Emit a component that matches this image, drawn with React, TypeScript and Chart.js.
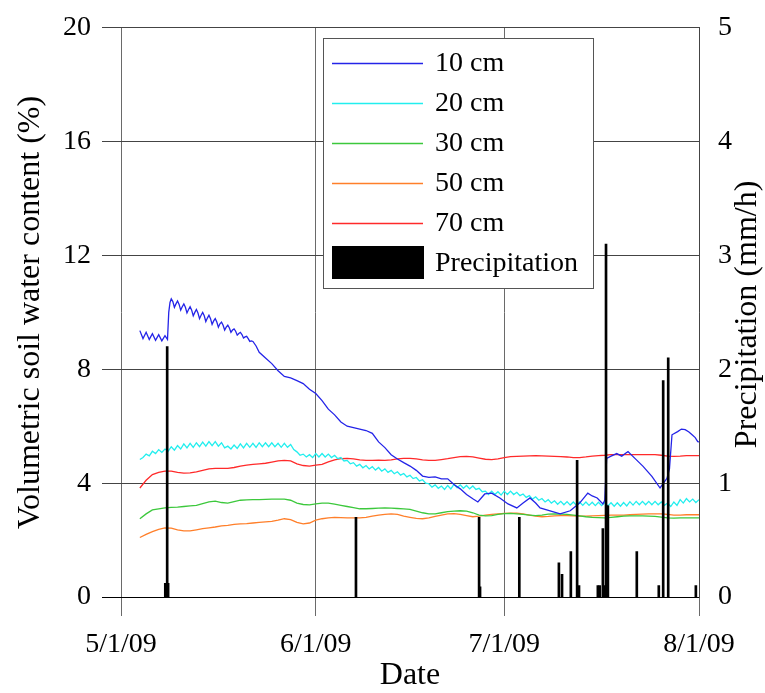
import React, { useEffect, useRef } from 'react';
import { Chart, registerables } from 'chart.js';

Chart.register(...registerables);

const FONT = '"Liberation Serif", "Times New Roman", Times, serif';

// x values: days since 5/1/09
const X_TICK_DAYS = [0, 31, 61, 92];
const X_TICK_LABELS = ['5/1/09', '6/1/09', '7/1/09', '8/1/09'];

const DAYS_10CM = [
  3.0, 3.5, 4.0, 4.5, 5.0, 5.5, 6.0, 6.5, 7.0, 7.4, 7.6, 7.8,
  8.0, 8.25, 8.5, 8.75, 9.0, 9.25, 9.5, 9.75, 10.0, 10.25, 10.5, 10.75, 11.0, 11.25, 11.5, 11.75,
  12.0, 12.25, 12.5, 12.75, 13.0, 13.25, 13.5, 13.75, 14.0, 14.25, 14.5, 14.75, 15.0, 15.25, 15.5, 15.75,
  16.0, 16.25, 16.5, 16.75, 17.0, 17.25, 17.5, 17.75, 18.0, 18.25, 18.5, 18.75, 19.0, 19.25, 19.5, 19.75,
  20.0, 20.25, 20.5, 20.75, 21.0, 21.5,
  22, 23, 24, 25, 26, 27, 28, 29, 30, 31, 32, 33, 34, 35, 36, 37, 38, 39, 40, 41, 42, 43, 44,
  45, 46, 47, 48, 49, 50, 51, 52, 53, 54, 55, 56, 56.8, 57.9, 59, 60.3, 61.6, 63, 64, 65.1, 66, 66.7, 68.3,
  69.9, 71.5, 73, 74.3, 75, 75.8, 76.7, 77.0, 77.3, 78, 78.9, 79.7, 80.7, 81.8, 83.1, 84.5, 85.8, 86.9,
  87.3, 87.7, 88.6, 89.2, 89.8, 90.4, 90.9, 91.4, 91.8, 92,
];
const VALUES_10CM = [
  9.36, 9.08, 9.30, 9.05, 9.25, 9.02, 9.22, 9.00, 9.18, 9.05, 10.0, 10.35,
  10.48, 10.38, 10.18, 10.3, 10.4, 10.28, 10.08, 10.2, 10.3, 10.18, 9.98, 10.1, 10.2, 10.08, 9.88, 10.0,
  10.1, 9.98, 9.78, 9.9, 10.0, 9.88, 9.68, 9.8, 9.9, 9.78, 9.58, 9.7, 9.78, 9.66, 9.48, 9.6,
  9.66, 9.55, 9.38, 9.48, 9.55, 9.45, 9.3, 9.38, 9.42, 9.34, 9.2, 9.26, 9.3, 9.22, 9.1, 9.14,
  9.16, 9.08, 8.98, 9.0, 8.98, 8.82,
  8.6, 8.4, 8.2, 7.95, 7.75, 7.7, 7.6, 7.5, 7.3, 7.15, 6.9, 6.6, 6.4, 6.15, 6.0, 5.95, 5.9, 5.85, 5.75, 5.45, 5.25, 5.0, 4.85,
  4.72, 4.6, 4.45, 4.25, 4.2, 4.22, 4.15, 4.15, 3.95, 3.8, 3.6, 3.45, 3.34, 3.62, 3.65, 3.48, 3.27, 3.13, 3.3, 3.48, 3.3, 3.13, 3.03,
  2.92, 3.03, 3.3, 3.65, 3.55, 3.48, 3.27, 3.4, 4.87, 4.95, 5.04, 4.95, 5.11, 4.87, 4.59, 4.24, 3.83, 4.17,
  4.5, 5.7, 5.81, 5.9, 5.88, 5.8, 5.7, 5.6, 5.46, 5.45,
];

// 20 cm sampled every half day starting at day 3
const START_20CM = 3;
const STEP_20CM = 0.5;
const VALUES_20CM = [
  4.83, 4.90, 5.02, 4.96, 5.12, 5.04, 5.18, 5.08, 5.20, 5.12, 5.28, 5.16, 5.32, 5.20, 5.38, 5.24, 5.40, 5.26,
  5.42, 5.28, 5.44, 5.30, 5.46, 5.32, 5.46, 5.30, 5.42, 5.24, 5.30, 5.20, 5.34, 5.22, 5.38, 5.24, 5.40, 5.26,
  5.40, 5.26, 5.42, 5.28, 5.42, 5.28, 5.42, 5.28, 5.40, 5.26, 5.40, 5.26, 5.36, 5.18, 5.10, 4.98, 5.02, 4.92,
  5.00, 4.90, 5.04, 4.92, 5.04, 4.92, 5.02, 4.90, 4.98, 4.86, 4.90, 4.78, 4.80, 4.68, 4.72, 4.60, 4.66, 4.54,
  4.62, 4.50, 4.58, 4.46, 4.55, 4.42, 4.50, 4.38, 4.45, 4.33, 4.40, 4.28, 4.34, 4.22, 4.28, 4.16, 4.20, 4.08,
  4.12, 4.00, 3.98, 3.86, 3.94, 3.82, 3.90, 3.78, 3.92, 3.80, 3.96, 3.84, 3.94, 3.82, 3.92, 3.80, 3.90, 3.78,
  3.82, 3.70, 3.72, 3.60, 3.72, 3.60, 3.70, 3.58, 3.72, 3.60, 3.72, 3.60, 3.68, 3.56, 3.62, 3.50, 3.56, 3.44,
  3.52, 3.40, 3.46, 3.34, 3.42, 3.30, 3.38, 3.26, 3.36, 3.24, 3.35, 3.23, 3.34, 3.22, 3.34, 3.22, 3.34, 3.22,
  3.33, 3.21, 3.33, 3.21, 3.32, 3.20, 3.31, 3.19, 3.31, 3.19, 3.32, 3.20, 3.35, 3.23, 3.36, 3.24, 3.36, 3.24,
  3.36, 3.24, 3.36, 3.24, 3.34, 3.22, 3.30, 3.18, 3.34, 3.22, 3.42, 3.30, 3.46, 3.34, 3.44, 3.32, 3.42,
];

// 30, 50, 70 cm sampled daily from day 3 to day 92
const START_DAILY = 3;
const VALUES_30CM = [
  2.75, 2.92, 3.06, 3.1, 3.13, 3.15, 3.16, 3.18, 3.2, 3.22, 3.28, 3.34, 3.37, 3.32, 3.3, 3.35, 3.4, 3.41, 3.42, 3.42,
  3.43, 3.44, 3.44, 3.44, 3.4, 3.3, 3.25, 3.24, 3.27, 3.3, 3.3, 3.26, 3.22, 3.18, 3.14, 3.1, 3.1, 3.11, 3.12, 3.13,
  3.12, 3.11, 3.1, 3.08, 3.02, 2.96, 2.92, 2.92, 2.96, 3.0, 3.02, 3.03, 3.02, 2.96, 2.88, 2.85, 2.86, 2.9, 2.93, 2.94,
  2.92, 2.9, 2.88, 2.86, 2.88, 2.91, 2.92, 2.91, 2.9, 2.88, 2.85, 2.82, 2.8, 2.79, 2.78, 2.8, 2.82, 2.84, 2.85, 2.85,
  2.85, 2.84, 2.83, 2.81, 2.78, 2.77, 2.78, 2.78, 2.78, 2.78,
];
const VALUES_50CM = [
  2.09, 2.2, 2.3, 2.38, 2.43, 2.42, 2.36, 2.32, 2.32, 2.36, 2.4, 2.43, 2.46, 2.5, 2.52, 2.55, 2.57, 2.58, 2.6, 2.62,
  2.64, 2.66, 2.7, 2.75, 2.72, 2.62, 2.57, 2.6, 2.7, 2.75, 2.78, 2.8, 2.79, 2.78, 2.78, 2.78, 2.8, 2.84, 2.88, 2.9,
  2.92, 2.9, 2.84, 2.8, 2.76, 2.75, 2.78, 2.83, 2.88, 2.92, 2.93, 2.9, 2.86, 2.82, 2.84, 2.88, 2.9, 2.92, 2.94, 2.95,
  2.95, 2.92, 2.88, 2.84, 2.82, 2.83, 2.85, 2.86, 2.86, 2.85, 2.84, 2.84, 2.85, 2.86, 2.87, 2.88, 2.88, 2.88, 2.89, 2.9,
  2.91, 2.92, 2.92, 2.92, 2.9, 2.88, 2.88, 2.89, 2.89, 2.89,
];
const VALUES_70CM = [
  3.83, 4.1, 4.3, 4.38, 4.42, 4.42, 4.38, 4.35, 4.36, 4.4, 4.45, 4.5, 4.52, 4.52, 4.52, 4.55, 4.6, 4.63, 4.66, 4.68,
  4.7, 4.74, 4.78, 4.8, 4.78, 4.68, 4.62, 4.6, 4.63, 4.66, 4.75, 4.82, 4.86, 4.87, 4.85, 4.82, 4.8, 4.8, 4.81, 4.8,
  4.82, 4.85, 4.87, 4.87, 4.85, 4.82, 4.8, 4.8, 4.83, 4.86, 4.9, 4.93, 4.94, 4.92, 4.88, 4.84, 4.83, 4.85, 4.9, 4.93,
  4.94, 4.95, 4.96, 4.97, 4.96, 4.95, 4.94, 4.93, 4.92, 4.9, 4.9, 4.92, 4.95, 4.97, 4.98, 5.0, 5.0, 5.0, 5.0, 5.0,
  5.0, 5.0, 5.0, 4.98, 4.95, 4.94, 4.95, 4.97, 4.97, 4.97,
];

const PRECIP_DAYS = [
  7.05, 7.2, 7.35, 7.5, 37.4, 57.0, 57.15, 63.4, 69.7, 70.2, 71.6, 72.6, 72.9, 75.9, 76.2, 76.7, 76.9, 77.2,
  77.35, 77.5, 82.1, 85.6, 86.3, 87.1, 91.5,
];
const PRECIP_VALUES = [
  0.12, 0.12, 2.2, 0.12, 0.7, 0.7, 0.09, 0.7, 0.3, 0.2, 0.4, 1.2, 0.1, 0.1, 0.1, 0.6, 0.1, 3.1,
  0.8, 0.8, 0.4, 0.1, 1.9, 2.1, 0.1,
];

const SERIES_LABELS = ['10 cm', '20 cm', '30 cm', '50 cm', '70 cm', 'Precipitation'];
const SERIES_COLORS = ['#2424e8', '#22eeee', '#3cc83c', '#ff7f2a', '#ff2a2a', '#000000'];
const LEFT_TITLE = 'Volumetric soil water content (%)';
const RIGHT_TITLE = 'Precipitation (mm/h)';
const X_TITLE = 'Date';

const pairs = (xs: number[], ys: number[]) => ys.map((y, i) => ({ x: xs[i], y }));
const stepped = (start: number, step: number, ys: number[]) => ys.map((y, i) => ({ x: start + i * step, y }));

const legendPlugin = {
  id: 'boxLegend',
  afterDraw(chart: any) {
    const c = chart.ctx as CanvasRenderingContext2D;
    c.save();
    const x0 = 323, y0 = 38, w = 270, h = 250;
    c.fillStyle = '#fff';
    c.fillRect(x0, y0, w, h);
    c.strokeStyle = '#555';
    c.lineWidth = 1;
    c.strokeRect(x0 + 0.5, y0 + 0.5, w, h);
    c.font = `28px ${FONT}`;
    c.textBaseline = 'middle';
    c.textAlign = 'left';
    chart.data.datasets.forEach((ds: any, i: number) => {
      const y = 63 + 40 * i;
      if (ds.type === 'bar') {
        c.fillStyle = ds.backgroundColor;
        c.fillRect(332, 246, 92, 33);
      } else {
        c.strokeStyle = ds.borderColor;
        c.lineWidth = 1.3;
        c.beginPath();
        c.moveTo(332, y + 0.5);
        c.lineTo(423, y + 0.5);
        c.stroke();
      }
      c.fillStyle = '#000';
      c.fillText(ds.label, 435, y + 1);
    });
    // right axis title, reading bottom-to-top
    const ca = chart.chartArea;
    c.translate(748, (ca.top + ca.bottom) / 2 + 2);
    c.rotate(-Math.PI / 2);
    c.font = `32px ${FONT}`;
    c.textAlign = 'center';
    c.textBaseline = 'middle';
    c.fillStyle = '#000';
    c.fillText(RIGHT_TITLE, 0, 0);
    c.restore();
  },
};

export default function App() {
  const ref = useRef<HTMLCanvasElement>(null);
  useEffect(() => {
    const canvas = ref.current;
    if (!canvas) return;
    const lineDs = (label: string, color: string, data: any[]) => ({
      type: 'line' as const,
      label,
      data,
      borderColor: color,
      backgroundColor: color,
      borderWidth: 1.3,
      pointRadius: 0,
      tension: 0,
      yAxisID: 'y',
      order: 2,
    });
    const chart = new Chart(canvas, {
      type: 'line',
      data: {
        datasets: [
          lineDs(SERIES_LABELS[0], SERIES_COLORS[0], pairs(DAYS_10CM, VALUES_10CM)),
          lineDs(SERIES_LABELS[1], SERIES_COLORS[1], stepped(START_20CM, STEP_20CM, VALUES_20CM)),
          lineDs(SERIES_LABELS[2], SERIES_COLORS[2], stepped(START_DAILY, 1, VALUES_30CM)),
          lineDs(SERIES_LABELS[3], SERIES_COLORS[3], stepped(START_DAILY, 1, VALUES_50CM)),
          lineDs(SERIES_LABELS[4], SERIES_COLORS[4], stepped(START_DAILY, 1, VALUES_70CM)),
          {
            type: 'bar' as const,
            label: SERIES_LABELS[5],
            data: pairs(PRECIP_DAYS, PRECIP_VALUES) as any,
            backgroundColor: SERIES_COLORS[5],
            borderWidth: 0,
            barThickness: 2,
            grouped: false,
            yAxisID: 'y2',
            order: 0,
          } as any,
        ],
      },
      options: {
        responsive: false,
        animation: false,
        events: [],
        layout: { padding: { top: 22, left: 0, right: 0, bottom: 0 } },
        plugins: { legend: { display: false }, tooltip: { enabled: false } },
        scales: {
          x: {
            type: 'linear',
            min: 0,
            max: 92,
            offset: false,
            afterBuildTicks: (s: any) => {
              s.ticks = X_TICK_DAYS.map((v) => ({ value: v }));
            },
            afterFit: (s: any) => {
              s.height = 96;
            },
            ticks: {
              autoSkip: false,
              maxRotation: 0,
              padding: 12,
              color: '#000',
              font: { family: FONT, size: 28 },
              callback: (v: any) => {
                const i = X_TICK_DAYS.indexOf(Number(v));
                return i >= 0 ? X_TICK_LABELS[i] : '';
              },
            },
            grid: { color: '#6a6a6a', lineWidth: 1, tickLength: 19, offset: false },
            border: { display: true, color: '#000', width: 1 },
            title: {
              display: true,
              text: X_TITLE,
              color: '#000',
              font: { family: FONT, size: 32 },
              padding: { top: 0, bottom: -2 },
            },
          },
          y: {
            type: 'linear',
            position: 'left',
            min: 0,
            max: 20,
            afterFit: (s: any) => {
              s.width = 121;
            },
            ticks: {
              stepSize: 4,
              padding: 11,
              color: '#000',
              font: { family: FONT, size: 28 },
            },
            grid: {
              color: (ctx: any) => (ctx.tick && ctx.tick.value === 0 ? '#000' : '#444'),
              lineWidth: 1,
              tickLength: 19,
            },
            border: { display: false },
            title: {
              display: true,
              text: LEFT_TITLE,
              color: '#000',
              font: { family: FONT, size: 32 },
              padding: { top: 11, bottom: 0 },
            },
          },
          y2: {
            type: 'linear',
            position: 'right',
            min: 0,
            max: 5,
            afterFit: (s: any) => {
              s.width = 66;
            },
            ticks: {
              stepSize: 1,
              padding: 11,
              color: '#000',
              font: { family: FONT, size: 28 },
            },
            grid: { display: false, drawOnChartArea: false },
            border: { display: true, color: '#444', width: 1 },
            title: { display: false },
          },
        },
      } as any,
      plugins: [legendPlugin],
    });
    return () => chart.destroy();
  }, []);
  return (
    <div style={{ position: 'absolute', left: 0, top: 0, width: 765, height: 693, background: '#fff' }}>
      <canvas ref={ref} width={765} height={693} style={{ display: 'block', width: 765, height: 693 }} />
    </div>
  );
}
